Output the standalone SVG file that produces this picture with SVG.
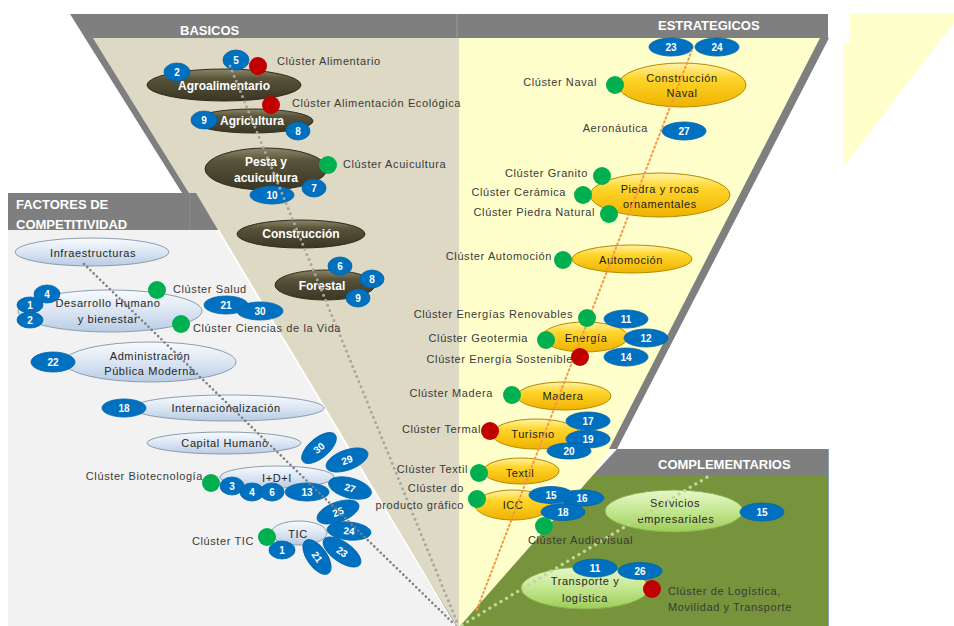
<svg xmlns="http://www.w3.org/2000/svg" width="954" height="626" viewBox="0 0 954 626">
<defs>
<linearGradient id="gOl" x1="0" y1="0" x2="0" y2="1"><stop offset="0" stop-color="#8d8769"/><stop offset="0.3" stop-color="#59533a"/><stop offset="1" stop-color="#3a3624"/></linearGradient>
<linearGradient id="gYe" x1="0" y1="0" x2="0" y2="1"><stop offset="0" stop-color="#fff4a8"/><stop offset="0.35" stop-color="#ffd52a"/><stop offset="1" stop-color="#efb200"/></linearGradient>
<linearGradient id="gBl" x1="0" y1="0" x2="0" y2="1"><stop offset="0" stop-color="#f8fbfe"/><stop offset="0.5" stop-color="#dbe6f3"/><stop offset="1" stop-color="#b8cce4"/></linearGradient>
<linearGradient id="gGr" x1="0" y1="0" x2="0" y2="1"><stop offset="0" stop-color="#e8f7cc"/><stop offset="0.5" stop-color="#c4e790"/><stop offset="1" stop-color="#9ccd58"/></linearGradient>
<style>
text{font-family:"Liberation Sans",Arial,sans-serif}
.ol{fill:url(#gOl);stroke:#2e2b1c;stroke-width:1}
.ye{fill:url(#gYe);stroke:#b48a00;stroke-width:1}
.bl{fill:url(#gBl);stroke:#8e9cad;stroke-width:1}
.gr{fill:url(#gGr);stroke:#86b04e;stroke-width:1}
.ot{font-size:12px;font-weight:bold;fill:#ffffff;text-anchor:middle}
.yt{font-size:11px;letter-spacing:0.6px;fill:#1c1c1c;text-anchor:middle}
.bt{font-size:11px;letter-spacing:0.6px;fill:#262626;text-anchor:middle}
.lb{font-size:11px;letter-spacing:0.6px;fill:#3a3a3a}
.le{font-size:11px;letter-spacing:0.6px;fill:#3a3a3a;text-anchor:end}
.hd{font-size:13px;font-weight:bold;fill:#ffffff}
.b ellipse{fill:#0070c0;stroke:#0062a8;stroke-width:0.8}
.b text{font-size:10px;font-weight:bold;fill:#ffffff;text-anchor:middle}
.rd{fill:#c00000}
.gd{fill:#00b050}
</style>
</defs>

<!-- panels -->
<g id="panels">
<polygon points="93,38 459,38 459,626 457,626" fill="#ddd9c4"/>
<polygon points="70,14 459,14 459,38 93,38 457,626 453,626" fill="#7f7f7f"/>
<polygon points="459,38 821,38 610,449 593,475 460,626 459,626" fill="#ffffcc"/>
<rect x="459" y="14" width="369" height="24" fill="#7f7f7f"/>
<line x1="457" y1="14" x2="457" y2="38" stroke="#9a9a9a" stroke-width="1"/>
<polygon points="820,38 829,38 617,449 609,449" fill="#7f7f7f"/>
<polygon points="850,14 954,14 954,23 843,167 843,43 850,43" fill="#ffffcc"/>
<polygon points="8,230 218,230 454,626 8,626" fill="#f2f2f2"/>
<line x1="218" y1="230" x2="455" y2="626" stroke="#ffffff" stroke-width="2"/>
<polygon points="8,193 196,193 218,230 8,230" fill="#7f7f7f"/>
<line x1="190" y1="193" x2="190" y2="230" stroke="#8c8c8c" stroke-width="1"/>
<polygon points="593,475 828,475 828,626 460,626" fill="#77933c"/>
<polygon points="617,449 828,449 828,475 593,475" fill="#7f7f7f"/>
<line x1="828.5" y1="449" x2="828.5" y2="626" stroke="#8fa3bd" stroke-width="1"/>
<text class="hd" x="180" y="35">BASICOS</text>
<text class="hd" x="658" y="30">ESTRATEGICOS</text>
<text class="hd" x="16" y="209">FACTORES DE</text>
<text class="hd" x="16" y="229">COMPETITIVIDAD</text>
<text class="hd" x="658" y="469">COMPLEMENTARIOS</text>
</g>

<!-- BASICOS nodes -->
<g id="agroalimentario">
<ellipse class="ol" cx="224" cy="85" rx="77" ry="16"/>
<text class="ot" x="224" y="90">Agroalimentario</text>
<g class="b"><ellipse cx="236" cy="60" rx="13" ry="10"/><text x="236" y="64">5</text></g>
<g class="b"><ellipse cx="177" cy="72" rx="13" ry="9"/><text x="177" y="76">2</text></g>
</g>
<g id="agricultura">
<ellipse class="ol" cx="253" cy="121" rx="60" ry="12"/>
<text class="ot" x="252" y="125">Agricultura</text>
<g class="b"><ellipse cx="204" cy="120" rx="13" ry="9"/><text x="204" y="124">9</text></g>
<g class="b"><ellipse cx="298" cy="131" rx="12" ry="9"/><text x="298" y="135">8</text></g>
</g>
<g id="pesca">
<ellipse class="ol" cx="266" cy="169" rx="61" ry="21"/>
<text class="ot" x="266" y="166">Pesta y</text>
<text class="ot" x="266" y="182">acuicultura</text>
<g class="b"><ellipse cx="314" cy="188" rx="12" ry="9"/><text x="314" y="192">7</text></g>
<g class="b"><ellipse cx="272" cy="195" rx="22" ry="9"/><text x="272" y="199">10</text></g>
</g>
<g id="construccion">
<ellipse class="ol" cx="301" cy="234" rx="64" ry="14"/>
<text class="ot" x="301" y="238">Construcción</text>
</g>
<g id="forestal">
<ellipse class="ol" cx="325" cy="285" rx="50" ry="15"/>
<text class="ot" x="322" y="290">Forestal</text>
<g class="b"><ellipse cx="340" cy="266" rx="12" ry="9"/><text x="340" y="270">6</text></g>
<g class="b"><ellipse cx="372" cy="279" rx="12" ry="9"/><text x="372" y="283">8</text></g>
<g class="b"><ellipse cx="358" cy="298" rx="12" ry="9"/><text x="358" y="302">9</text></g>
</g>

<!-- FACTORES nodes -->
<g id="infraestructuras">
<ellipse class="bl" cx="92" cy="252" rx="77" ry="14"/>
<text class="bt" x="93" y="257">Infraestructuras</text>
</g>
<g id="desarrollo">
<ellipse class="bl" cx="110" cy="311" rx="92" ry="21"/>
<text class="bt" x="108" y="307">Desarrollo Humano</text>
<text class="bt" x="108" y="323">y bienestar</text>
<g class="b"><ellipse cx="47" cy="294" rx="13" ry="9"/><text x="47" y="298">4</text></g>
<g class="b"><ellipse cx="30" cy="305" rx="13" ry="8"/><text x="30" y="309">1</text></g>
<g class="b"><ellipse cx="30" cy="320" rx="13" ry="8"/><text x="30" y="324">2</text></g>
<g class="b"><ellipse cx="226" cy="305" rx="22" ry="9"/><text x="226" y="309">21</text></g>
<g class="b"><ellipse cx="260" cy="311" rx="23" ry="9"/><text x="260" y="315">30</text></g>
</g>
<g id="administracion">
<ellipse class="bl" cx="150" cy="362" rx="86" ry="20"/>
<text class="bt" x="150" y="360">Administración</text>
<text class="bt" x="150" y="375">Pública Moderna</text>
<g class="b"><ellipse cx="53" cy="362" rx="22" ry="10"/><text x="53" y="366">22</text></g>
</g>
<g id="internacionalizacion">
<ellipse class="bl" cx="228" cy="408" rx="96" ry="13"/>
<text class="bt" x="226" y="412">Internacionalización</text>
<g class="b"><ellipse cx="124" cy="408" rx="22" ry="9"/><text x="124" y="412">18</text></g>
</g>
<g id="capital-humano">
<ellipse class="bl" cx="224" cy="443" rx="77" ry="11"/>
<text class="bt" x="225" y="447">Capital Humano</text>
</g>
<g id="idi">
<ellipse class="bl" cx="277" cy="477" rx="57" ry="11"/>
<text class="bt" x="277" y="482">I+D+I</text>
<g class="b" transform="translate(319,448) rotate(-40)"><ellipse rx="21" ry="10"/><text y="3.5">30</text></g>
<g class="b" transform="translate(347,460) rotate(-20)"><ellipse rx="22" ry="10"/><text y="3.5">29</text></g>
<g class="b" transform="translate(350,488) rotate(15)"><ellipse rx="22" ry="10"/><text y="3.5">27</text></g>
<g class="b"><ellipse cx="232" cy="486" rx="12" ry="9"/><text x="232" y="490">3</text></g>
<g class="b"><ellipse cx="252" cy="492" rx="12" ry="9"/><text x="252" y="496">4</text></g>
<g class="b"><ellipse cx="272" cy="492" rx="12" ry="9"/><text x="272" y="496">6</text></g>
<g class="b"><ellipse cx="307" cy="492" rx="22" ry="9"/><text x="307" y="496">13</text></g>
</g>
<g id="tic">
<ellipse class="bl" cx="299" cy="533" rx="28" ry="12"/>
<text class="bt" x="298" y="538">TIC</text>
<g class="b" transform="translate(338,512) rotate(-20)"><ellipse rx="22" ry="10"/><text y="3.5">25</text></g>
<g class="b" transform="translate(349,531) rotate(5)"><ellipse rx="22" ry="9"/><text y="3.5">24</text></g>
<g class="b" transform="translate(342,552) rotate(35)"><ellipse rx="22" ry="10"/><text y="3.5">23</text></g>
<g class="b" transform="translate(317,557) rotate(55)"><ellipse rx="20" ry="10"/><text y="3.5">21</text></g>
<g class="b"><ellipse cx="282" cy="550" rx="13" ry="9"/><text x="282" y="554">1</text></g>
</g>

<!-- ESTRATEGICOS nodes -->
<g id="construccion-naval">
<ellipse class="ye" cx="682" cy="85" rx="64" ry="22"/>
<text class="yt" x="682" y="82">Construcción</text>
<text class="yt" x="682" y="97">Naval</text>
<g class="b"><ellipse cx="671" cy="47" rx="22" ry="9"/><text x="671" y="51">23</text></g>
<g class="b"><ellipse cx="717" cy="47" rx="22" ry="9"/><text x="717" y="51">24</text></g>
</g>
<g id="aeronautica">
<text class="le" x="648" y="132">Aeronáutica</text>
<g class="b"><ellipse cx="684" cy="131" rx="22" ry="9"/><text x="684" y="135">27</text></g>
</g>
<g id="piedra">
<ellipse class="ye" cx="660" cy="195" rx="70" ry="22"/>
<text class="yt" x="660" y="193">Piedra y rocas</text>
<text class="yt" x="660" y="208">ornamentales</text>
</g>
<g id="automocion">
<ellipse class="ye" cx="632" cy="259" rx="60" ry="14"/>
<text class="yt" x="631" y="264">Automoción</text>
</g>
<g id="energia">
<ellipse class="ye" cx="585" cy="337" rx="43" ry="15"/>
<text class="yt" x="586" y="342">Energía</text>
<g class="b"><ellipse cx="626" cy="319" rx="22" ry="9"/><text x="626" y="323">11</text></g>
<g class="b"><ellipse cx="646" cy="338" rx="22" ry="9"/><text x="646" y="342">12</text></g>
<g class="b"><ellipse cx="626" cy="357" rx="22" ry="9"/><text x="626" y="361">14</text></g>
</g>
<g id="madera">
<ellipse class="ye" cx="564" cy="396" rx="47" ry="14"/>
<text class="yt" x="563" y="400">Madera</text>
</g>
<g id="turismo">
<ellipse class="ye" cx="536" cy="434" rx="44" ry="15"/>
<text class="yt" x="533" y="438">Turismo</text>
<g class="b"><ellipse cx="588" cy="421" rx="22" ry="9"/><text x="588" y="425">17</text></g>
<g class="b"><ellipse cx="588" cy="439" rx="22" ry="9"/><text x="588" y="443">19</text></g>
<g class="b"><ellipse cx="569" cy="451" rx="22" ry="8"/><text x="569" y="455">20</text></g>
</g>
<g id="textil">
<ellipse class="ye" cx="521" cy="471" rx="38" ry="13"/>
<text class="yt" x="520" y="477">Textil</text>
</g>
<g id="icc">
<ellipse class="ye" cx="513" cy="505" rx="38" ry="15"/>
<text class="yt" x="513" y="509">ICC</text>
<g class="b"><ellipse cx="582" cy="498" rx="22" ry="8"/><text x="582" y="502">16</text></g>
<g class="b"><ellipse cx="551" cy="495" rx="22" ry="8.5"/><text x="551" y="499">15</text></g>
<g class="b"><ellipse cx="563" cy="512" rx="22" ry="8.5"/><text x="563" y="516">18</text></g>
</g>

<!-- COMPLEMENTARIOS nodes -->
<g id="servicios">
<ellipse class="gr" cx="674" cy="511" rx="69" ry="21"/>
<text class="bt" x="675" y="507">Servicios</text>
<text class="bt" x="676" y="523">empresariales</text>
<g class="b"><ellipse cx="762" cy="512" rx="22" ry="9"/><text x="762" y="516">15</text></g>
</g>
<g id="transporte">
<ellipse class="gr" cx="585" cy="588" rx="64" ry="21"/>
<text class="bt" x="585" y="585">Transporte y</text>
<text class="bt" x="585" y="602">logística</text>
<g class="b"><ellipse cx="595" cy="568" rx="22" ry="9"/><text x="595" y="572">11</text></g>
<g class="b"><ellipse cx="640" cy="571" rx="22" ry="8.5"/><text x="640" y="575">26</text></g>
</g>

<!-- connectors -->
<g id="connectors" fill="none" stroke-linecap="round">
<line x1="230" y1="66" x2="457" y2="622" stroke="#aaa69a" stroke-width="3" stroke-dasharray="0 5.5"/>
<line x1="84" y1="264" x2="452" y2="622" stroke="#7f7f7f" stroke-width="2.6" stroke-dasharray="0 4.5"/>
<line x1="692" y1="50" x2="476" y2="612" stroke="#f79646" stroke-width="2" stroke-dasharray="1.5 3"/>
<line x1="462" y1="625" x2="709" y2="476" stroke="#c3d69b" stroke-width="3.5" stroke-dasharray="0 6.5"/>
</g>

<!-- clusters -->
<g id="cl-alimentario"><circle class="rd" cx="258" cy="66" r="9"/><text class="lb" x="277" y="65">Clúster Alimentario</text></g>
<g id="cl-alim-eco"><circle class="rd" cx="271" cy="105" r="9"/><text class="lb" x="292" y="107">Clúster Alimentación Ecológica</text></g>
<g id="cl-acuicultura"><circle class="gd" cx="328" cy="165" r="9"/><text class="lb" x="343" y="168">Clúster Acuicultura</text></g>
<g id="cl-salud"><circle class="gd" cx="157" cy="290" r="9"/><text class="lb" x="173" y="293">Clúster Salud</text></g>
<g id="cl-ciencias"><circle class="gd" cx="181" cy="324" r="9"/><text class="lb" x="193" y="332">Clúster Ciencias de la Vida</text></g>
<g id="cl-biotec"><circle class="gd" cx="211" cy="483" r="9"/><text class="le" x="203" y="480">Clúster Biotecnología</text></g>
<g id="cl-tic"><circle class="gd" cx="267" cy="537" r="9"/><text class="le" x="254" y="545">Clúster TIC</text></g>
<g id="cl-naval"><circle class="gd" cx="615" cy="85" r="9"/><text class="le" x="597" y="86">Clúster Naval</text></g>
<g id="cl-granito"><circle class="gd" cx="602" cy="176" r="9"/><text class="le" x="588" y="177">Clúster Granito</text></g>
<g id="cl-ceramica"><circle class="gd" cx="583" cy="195" r="9"/><text class="le" x="566" y="196">Clúster Cerámica</text></g>
<g id="cl-piedra"><circle class="gd" cx="609" cy="214" r="9"/><text class="le" x="595" y="216">Clúster Piedra Natural</text></g>
<g id="cl-automocion"><circle class="gd" cx="563" cy="260" r="9"/><text class="le" x="552" y="260">Clúster Automoción</text></g>
<g id="cl-renovables"><circle class="gd" cx="587" cy="318" r="9"/><text class="le" x="573" y="318">Clúster Energías Renovables</text></g>
<g id="cl-geotermia"><circle class="gd" cx="546" cy="340" r="9"/><text class="le" x="528" y="342">Clúster Geotermia</text></g>
<g id="cl-sostenible"><circle class="rd" cx="580" cy="357" r="9"/><text class="le" x="573" y="363">Clúster Energía Sostenible</text></g>
<g id="cl-madera"><circle class="gd" cx="512" cy="395" r="9"/><text class="le" x="493" y="397">Clúster Madera</text></g>
<g id="cl-termal"><circle class="rd" cx="490" cy="431" r="9"/><text class="le" x="481" y="433">Clúster Termal</text></g>
<g id="cl-textil"><circle class="gd" cx="479" cy="473" r="9"/><text class="le" x="468" y="473">Clúster Textil</text></g>
<g id="cl-grafico"><circle class="gd" cx="477" cy="499" r="9"/><text class="le" x="464" y="492">Clúster do</text><text class="le" x="464" y="509">producto gráfico</text></g>
<g id="cl-audiovisual"><circle class="gd" cx="544" cy="526" r="9"/><text class="lb" x="528" y="544">Clúster Audiovisual</text></g>
<g id="cl-logistica"><circle class="rd" cx="652" cy="589" r="9"/><text class="lb" x="668" y="595">Clúster de Logística,</text><text class="lb" x="668" y="611">Movilidad y Transporte</text></g>
</svg>
